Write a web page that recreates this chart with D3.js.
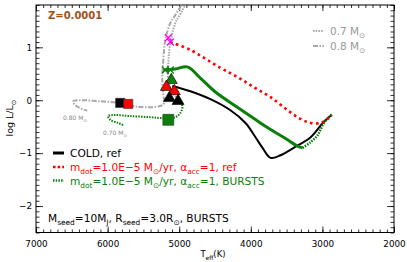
<!DOCTYPE html>
<html>
<head>
<meta charset="utf-8">
<script src="https://cdn.jsdelivr.net/npm/d3@7"></script>
<style>
	body { margin: 0; background: #fff; }
	text { font-family: "DejaVu Sans", Verdana, sans-serif; }
</style>
</head>
<body>
<div id="hrd"></div>
<script>
/* global d3 */

// tracks (Teff in K, log L/Lsun)
var coldTeff = [5096, 4844, 4564, 4284, 4074, 3934, 3836, 3724, 3584, 3402, 3164, 2982, 2870],
	coldLogL = [0.27, 0.17, 0.02, -0.19, -0.43, -0.70, -0.90, -1.09, -1.04, -0.90, -0.70, -0.41, -0.28];

var refTeff = [5124, 4844, 4424, 4186, 3962, 3724, 3486, 3304, 3164, 3024, 2926, 2870],
	refLogL = [1.10, 0.95, 0.61, 0.44, 0.25, 0.06, -0.19, -0.355, -0.43, -0.43, -0.355, -0.28];

var burstTeff = [5222, 5054, 4886, 4704, 4494, 4214, 3962, 3752, 3542, 3346, 3276],
	burstLogL = [0.57, 0.59, 0.63, 0.42, 0.155, -0.11, -0.34, -0.53, -0.70, -0.87, -0.90],
	burstTailTeff = [3276, 3164, 3066, 2996, 2912, 2856],
	burstTailLogL = [-0.90, -0.79, -0.66, -0.47, -0.32, -0.26],
	burstLowTeff = [5012, 4956, 4984, 5054, 5194, 5404, 5684, 5894, 5992, 5964, 5852, 5782],
	burstLowLogL = [0.0, -0.11, -0.24, -0.32, -0.34, -0.32, -0.30, -0.28, -0.30, -0.37, -0.43, -0.47];

var iso08Teff = [4914, 4970, 5054, 5124, 5194, 5222, 5236, 5222, 5208, 5264, 5544, 5642, 5824, 6104, 6384, 6482, 6454, 6384, 6286],
	iso08LogL = [1.95, 1.80, 1.61, 1.46, 1.14, 0.76, 0.38, 0.10, -0.05, -0.11, -0.13, -0.11, -0.05, -0.02, 0.0, -0.02, -0.09, -0.15, -0.20],
	iso07Teff = [4844, 4914, 4984, 5054, 5124, 5152, 5152, 5096, 5012],
	iso07LogL = [1.95, 1.80, 1.63, 1.46, 1.08, 0.70, 0.38, 0.155, 0.0];

// markers
var triTeff = [5110, 5180, 5068, 5138, 5016],
	triLogL = [0.38, 0.25, 0.17, 0.04, -0.015],
	triKind = ["burst", "ref", "ref", "cold", "cold"],
	sqTeff = [5824, 5712, 5152],
	sqLogL = [-0.05, -0.07, -0.37],
	sqKind = ["cold", "ref", "burst"],
	crossTeff = [5152, 5124, 5194, 5124],
	crossLogL = [1.18, 1.10, 0.57, 0.57],
	crossKind = ["ref", "ref", "burst", "burst"];

var xMajor = [7000, 6000, 5000, 4000, 3000, 2000],
	yMajor = [-2, -1, 0, 1];

(function() {

	'use strict';

	var width = 407,
		height = 262,
		margin = { top: 5, right: 13, bottom: 29.5, left: 36 },
		colors = { cold: "#000", ref: "#ff0000", burst: "#0a800a", gray: "#a8a8a8", cross: "#ff00ff" },
		fontSize = 10.6,
		tickFont = 8.8;

	var x = d3.scaleLinear().domain([7000, 2000]).range([margin.left, width - margin.right]),
		y = d3.scaleLinear().domain([-2.5, 1.8]).range([height - margin.bottom, margin.top]);

	var svg = d3.select("#hrd").append("svg")
		.attr("width", width)
		.attr("height", height);

	svg.append("clipPath").attr("id", "plotclip")
		.append("rect")
		.attr("x", margin.left).attr("y", margin.top)
		.attr("width", width - margin.left - margin.right)
		.attr("height", height - margin.top - margin.bottom);

	function zipPts(ts, ls) {
		return ts.map(function(t, i) { return [t, ls[i]]; });
	}

	var line = d3.line()
		.x(function(d) { return x(d[0]); })
		.y(function(d) { return y(d[1]); })
		.curve(d3.curveCatmullRom.alpha(0.5));

	// text with subscripts, parts = [[string, isSub], ...]
	function rich(sel, px, py, parts, size, color) {
		var t = sel.append("text")
				.attr("x", px).attr("y", py)
				.attr("font-size", size)
				.attr("fill", color),
			down = false,
			shift = size * 0.3;
		parts.forEach(function(p) {
			var ts = t.append("tspan").text(p[0]);
			if (p[1]) {
				ts.attr("font-size", size * 0.7);
				if (!down) { ts.attr("dy", shift); down = true; }
			} else if (down) {
				ts.attr("dy", -shift);
				down = false;
			}
		});
		return t;
	}

	// axes, ticks inward on all sides
	function minorTicks(lo, hi, step) {
		return d3.range(lo, hi + step / 2, step).map(function(v) { return Math.round(v * 10) / 10; });
	}
	var xMinor = minorTicks(2000, 7000, 100),
		yMinor = minorTicks(-2.5, 1.8, 0.1);

	function styleAxis(g) {
		g.select(".domain").remove();
		g.selectAll("line").attr("stroke", "#000").attr("stroke-width", 0.8);
		g.selectAll("text").attr("font-size", tickFont).attr("fill", "#000")
			.attr("font-family", "DejaVu Sans, Verdana, sans-serif");
	}

	svg.append("g")
		.attr("transform", "translate(0," + (height - margin.bottom) + ")")
		.call(d3.axisBottom(x).tickValues(xMinor).tickSize(-3).tickFormat(""))
		.call(styleAxis);
	svg.append("g")
		.attr("transform", "translate(0," + (height - margin.bottom) + ")")
		.call(d3.axisBottom(x).tickValues(xMajor).tickSize(-6).tickPadding(8).tickFormat(d3.format("d")))
		.call(styleAxis);
	svg.append("g")
		.attr("transform", "translate(0," + margin.top + ")")
		.call(d3.axisTop(x).tickValues(xMinor).tickSize(-3).tickFormat(""))
		.call(styleAxis);
	svg.append("g")
		.attr("transform", "translate(0," + margin.top + ")")
		.call(d3.axisTop(x).tickValues(xMajor).tickSize(-6).tickFormat(""))
		.call(styleAxis);

	svg.append("g")
		.attr("transform", "translate(" + margin.left + ",0)")
		.call(d3.axisLeft(y).tickValues(yMinor).tickSize(-3.5).tickFormat(""))
		.call(styleAxis);
	svg.append("g")
		.attr("transform", "translate(" + margin.left + ",0)")
		.call(d3.axisLeft(y).tickValues(yMajor).tickSize(-7).tickPadding(4).tickFormat(d3.format("d")))
		.call(styleAxis);
	svg.append("g")
		.attr("transform", "translate(" + (width - margin.right) + ",0)")
		.call(d3.axisRight(y).tickValues(yMinor).tickSize(-3.5).tickFormat(""))
		.call(styleAxis);
	svg.append("g")
		.attr("transform", "translate(" + (width - margin.right) + ",0)")
		.call(d3.axisRight(y).tickValues(yMajor).tickSize(-7).tickFormat(""))
		.call(styleAxis);

	svg.append("rect")
		.attr("x", margin.left).attr("y", margin.top)
		.attr("width", width - margin.left - margin.right)
		.attr("height", height - margin.top - margin.bottom)
		.attr("fill", "none")
		.attr("stroke", "#000")
		.attr("stroke-width", 1);

	// tracks
	var plot = svg.append("g").attr("clip-path", "url(#plotclip)");

	plot.append("path").datum(zipPts(iso08Teff, iso08LogL))
		.attr("fill", "none").attr("stroke", colors.gray).attr("stroke-width", 2)
		.attr("stroke-dasharray", "5,1.5,1.5,1.5")
		.attr("d", line);
	plot.append("path").datum(zipPts(iso07Teff, iso07LogL))
		.attr("fill", "none").attr("stroke", colors.gray).attr("stroke-width", 2)
		.attr("stroke-dasharray", "1.5,1.2")
		.attr("d", line);
	plot.append("path").datum(zipPts(burstLowTeff, burstLowLogL))
		.attr("fill", "none").attr("stroke", colors.burst).attr("stroke-width", 2)
		.attr("stroke-dasharray", "1.5,1.2")
		.attr("d", line);

	plot.append("path").datum(zipPts(coldTeff, coldLogL))
		.attr("fill", "none").attr("stroke", colors.cold).attr("stroke-width", 2)
		.attr("d", line);
	plot.append("path").datum(zipPts(burstTeff, burstLogL))
		.attr("fill", "none").attr("stroke", colors.burst).attr("stroke-width", 3)
		.attr("d", line);
	plot.append("path").datum(zipPts(burstTailTeff, burstTailLogL))
		.attr("fill", "none").attr("stroke", colors.burst).attr("stroke-width", 2.5)
		.attr("stroke-dasharray", "1.5,1.2")
		.attr("d", line);
	plot.append("path").datum(zipPts(refTeff, refLogL))
		.attr("fill", "none").attr("stroke", colors.ref).attr("stroke-width", 2.6)
		.attr("stroke-dasharray", "2.6,3.4")
		.attr("d", line);

	// markers
	var crossR = 3.5;
	plot.selectAll(".cross")
		.data(crossTeff.map(function(t, i) { return { t: t, l: crossLogL[i], k: crossKind[i] }; }))
		.join("path")
		.attr("class", "cross")
		.attr("fill", "none")
		.attr("stroke", function(d) { return d.k === "ref" ? colors.cross : colors.burst; })
		.attr("stroke-width", 1.3)
		.attr("d", function(d) {
			var cx = x(d.t), cy = y(d.l);
			return "M" + (cx - crossR) + "," + (cy - crossR) + "L" + (cx + crossR) + "," + (cy + crossR) +
				"M" + (cx - crossR) + "," + (cy + crossR) + "L" + (cx + crossR) + "," + (cy - crossR);
		});

	plot.selectAll(".tri")
		.data(triTeff.map(function(t, i) { return { t: t, l: triLogL[i], k: triKind[i] }; }))
		.join("path")
		.attr("class", "tri")
		.attr("transform", function(d) { return "translate(" + x(d.t) + "," + y(d.l) + ")"; })
		.attr("d", d3.symbol(d3.symbolTriangle, 62))
		.attr("fill", function(d) { return colors[d.k]; })
		.attr("stroke", "#000")
		.attr("stroke-width", 0.6);

	plot.selectAll(".sq")
		.data(sqTeff.map(function(t, i) { return { t: t, l: sqLogL[i], k: sqKind[i] }; }))
		.join("path")
		.attr("class", "sq")
		.attr("transform", function(d) { return "translate(" + x(d.t) + "," + y(d.l) + ")"; })
		.attr("d", function(d) { return d3.symbol(d3.symbolSquare, d.k === "burst" ? 120 : 85)(); })
		.attr("fill", function(d) { return colors[d.k]; })
		.attr("stroke", "#333")
		.attr("stroke-width", 0.6);

	// labels
	rich(svg, 48, 18.5, [["Z=0.0001"]], 10, "#a0521d").attr("font-weight", "bold");

	svg.append("line").attr("x1", 313).attr("x2", 324).attr("y1", 31).attr("y2", 31)
		.attr("stroke", colors.gray).attr("stroke-width", 2).attr("stroke-dasharray", "1.5,1.2");
	rich(svg, 330, 35, [["0.7 M"], ["⊙", 1]], 10.5, "#999");
	svg.append("line").attr("x1", 313).attr("x2", 324).attr("y1", 46).attr("y2", 46)
		.attr("stroke", colors.gray).attr("stroke-width", 2).attr("stroke-dasharray", "5,1.5,1.5,1.5");
	rich(svg, 330, 50, [["0.8 M"], ["⊙", 1]], 10.5, "#999");

	rich(svg, 63, 120, [["0.80 M"], ["⊙", 1]], 6, "#888");
	rich(svg, 103, 135, [["0.70 M"], ["⊙", 1]], 6, "#888");

	// legend
	svg.append("line").attr("x1", 53).attr("x2", 64).attr("y1", 153).attr("y2", 153)
		.attr("stroke", colors.cold).attr("stroke-width", 3);
	rich(svg, 70, 157, [["COLD, ref"]], fontSize, colors.cold);
	svg.append("line").attr("x1", 53).attr("x2", 64).attr("y1", 167).attr("y2", 167)
		.attr("stroke", colors.ref).attr("stroke-width", 2.6).attr("stroke-dasharray", "2.6,2");
	rich(svg, 70, 171, [["m"], ["dot", 1], ["=1.0E−5 M"], ["⊙", 1], ["/yr, α"], ["acc", 1], ["=1, ref"]], fontSize, colors.ref);
	svg.append("line").attr("x1", 53).attr("x2", 64).attr("y1", 180.5).attr("y2", 180.5)
		.attr("stroke", colors.burst).attr("stroke-width", 2.6).attr("stroke-dasharray", "1.5,1.2");
	rich(svg, 70, 184.5, [["m"], ["dot", 1], ["=1.0E−5 M"], ["⊙", 1], ["/yr, α"], ["acc", 1], ["=1, BURSTS"]], fontSize, colors.burst);

	rich(svg, 48, 222, [["M"], ["seed", 1], ["=10M"], ["J", 1], [", R"], ["seed", 1], ["=3.0R"], ["⊙", 1], [", BURSTS"]], fontSize, "#000");

	// axis titles
	rich(svg, 213, 257, [["T"], ["eff", 1], ["(K)"]], 8.5, "#000").attr("text-anchor", "middle");
	rich(svg, 0, 0, [["log L/L"], ["⊙", 1]], 9.5, "#000")
		.attr("text-anchor", "middle")
		.attr("transform", "translate(13,118) rotate(-90)");

})();
</script>
</body>
</html>
